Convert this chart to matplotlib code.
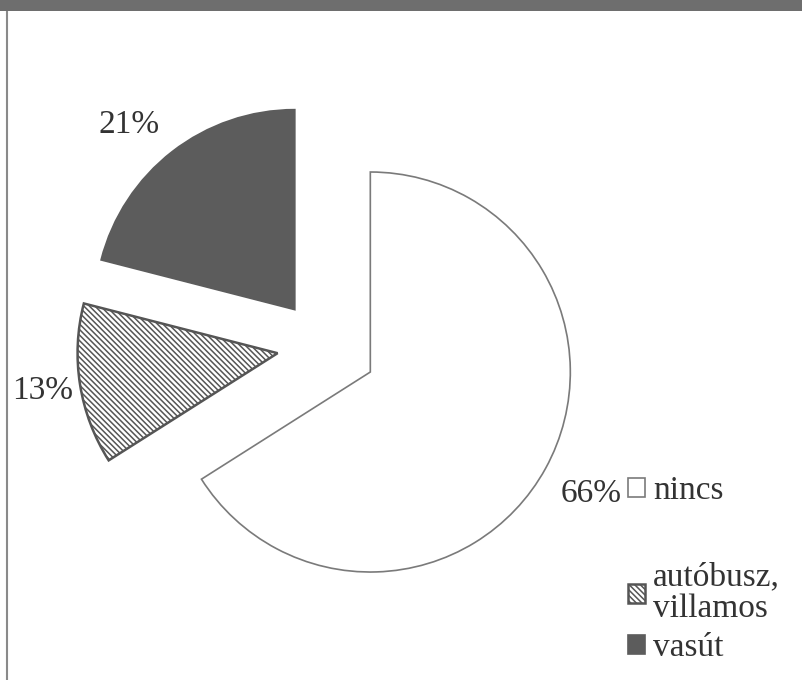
import matplotlib
matplotlib.use("Agg")
import matplotlib.pyplot as plt
import matplotlib.patches as patches
from matplotlib.lines import Line2D
import numpy as np

labels = ["nincs", "autóbusz,\nvillamos", "vasút"]
values = [66, 13, 21]
colors = ["white", "white", "#5c5c5c"]
edges = ["#7a7a7a", "#555555", "#5c5c5c"]
hatches = [None, "\\\\\\\\\\\\", None]
explode = [0.27, 0.23, 0.23]
label_dist = [1.26, 1.19, 1.24]
label_turn = [0, 0, 4]

plt.rcParams["font.family"] = ["Liberation Serif", "DejaVu Serif"]
plt.rcParams["hatch.color"] = "#555555"
plt.rcParams["hatch.linewidth"] = 1.1

fig = plt.figure(figsize=(8.03, 6.8), dpi=100)
ax = fig.add_axes([0, 0, 1, 1])

wedges, texts, autotexts = ax.pie(
    values, explode=explode, colors=colors, startangle=90, counterclock=False,
    autopct="%d%%", pctdistance=1.25, radius=1.0, center=(0, 0), frame=True,
    wedgeprops=dict(linewidth=1.2),
    textprops=dict(fontsize=24, color="#333333"))
ax.set_xlim(-1.615, 2.4)
ax.set_ylim(-1.67, 1.73)
ax.set_aspect("equal")
ax.axis("off")
for w, ec, h, at, d, ex, turn in zip(wedges, edges, hatches, autotexts,
                                     label_dist, explode, label_turn):
    w.set_edgecolor(ec)
    if h:
        w.set_hatch(h)
    mid = np.deg2rad((w.theta1 + w.theta2) / 2)
    ang = np.deg2rad((w.theta1 + w.theta2) / 2 + turn)
    cx, cy = np.cos(mid) * ex, np.sin(mid) * ex
    at.set_position((cx + np.cos(ang) * d, cy + np.sin(ang) * d))
wedges[1].set_linewidth(1.8)

# legend: first entry alone, the other two below it
leg1 = ax.legend(wedges[:1], labels[:1], loc="center left",
                 bbox_to_anchor=(628 / 803, 1 - 491 / 680), bbox_transform=fig.transFigure,
                 frameon=False, fontsize=24, handlelength=0.5, handleheight=0.5,
                 handletextpad=0.25, borderpad=0, borderaxespad=0)
ax.add_artist(leg1)
leg2 = ax.legend(wedges[1:], labels[1:], loc="upper left",
                 bbox_to_anchor=(628 / 803, 1 - 562 / 680), bbox_transform=fig.transFigure,
                 frameon=False, fontsize=24, handlelength=0.5, handleheight=0.5,
                 handletextpad=0.25, labelspacing=0.25, borderpad=0, borderaxespad=0)
for leg in (leg1, leg2):
    for t in leg.get_texts():
        t.set_color("#333333")
        t.set_linespacing(1.05)

# top band and left border
fig.patches.append(patches.Rectangle((0, 1 - 11 / 680), 1, 11 / 680, transform=fig.transFigure,
                                     facecolor="#6e6e6e", edgecolor="none", zorder=5))
fig.lines.append(Line2D([7 / 803, 7 / 803], [0, 1], transform=fig.transFigure,
                        color="#8a8a8a", linewidth=1.5))

fig.savefig("out.png", dpi=100, facecolor="white")
